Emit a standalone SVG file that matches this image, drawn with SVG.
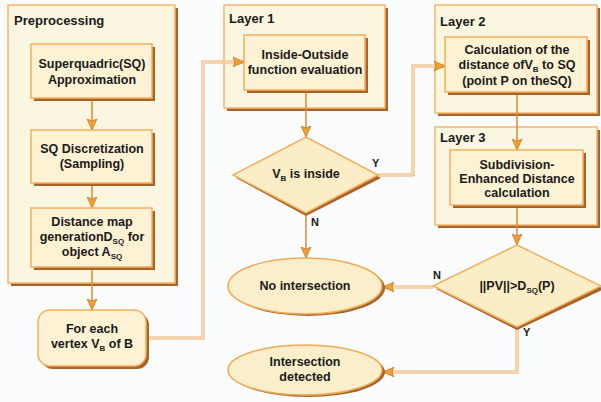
<svg xmlns="http://www.w3.org/2000/svg" width="601" height="402" viewBox="0 0 601 402">
<style>
.bg{fill:#fbfcfd}
.sh{fill:#a8632a}
.cont{fill:#fbf6df;stroke:#f6b56c;stroke-width:1.5}
.box{fill:#fdf2d3;stroke:#f5ae5e;stroke-width:1.5}
.dia{fill:#fbedc6;stroke:#f5ae5e;stroke-width:1.5}
.ell{fill:#fbefcb;stroke:#f2a957;stroke-width:1.5}
text{font-family:"Liberation Sans",Arial,sans-serif;font-weight:bold;fill:#1a1a1a}
.t{font-size:12.5px;text-anchor:middle}
.lab{font-size:13px}
.yn{font-size:11px}
.w{fill:none;stroke:#f0b06a;stroke-width:3}
.wc{fill:none;stroke:#fdf5e6;stroke-width:1}
.s{fill:none;stroke:#d98a36;stroke-width:1.5}
</style>
<defs>
<marker id="ah" markerUnits="userSpaceOnUse" markerWidth="12" markerHeight="12" viewBox="0 0 12 12" refX="11" refY="6" orient="auto">
<path d="M0,1 L11,6 L0,11 L2,6 Z" fill="#f0a030" stroke="#b86a20" stroke-width="0.6"/>
</marker>
</defs>
<rect class="bg" x="0" y="0" width="601" height="402"/>

<g id="preprocessing">
<rect class="sh" x="11" y="8" width="167" height="278"/>
<rect class="cont" x="8" y="5" width="167" height="278"/>
<text class="lab" x="14" y="25">Preprocessing</text>
</g>
<g id="layer1">
<rect class="sh" x="227" y="8" width="161" height="103"/>
<rect class="cont" x="224" y="5" width="161" height="103"/>
<text class="lab" x="229" y="23">Layer 1</text>
</g>
<g id="layer2">
<rect class="sh" x="438" y="8" width="162" height="108"/>
<rect class="cont" x="435" y="5" width="162" height="108"/>
<text class="lab" x="440" y="26">Layer 2</text>
</g>
<g id="layer3">
<rect class="sh" x="438" y="130" width="162" height="98"/>
<rect class="cont" x="435" y="127" width="162" height="98"/>
<text class="lab" x="440" y="142">Layer 3</text>
</g>

<g id="connectors">
<path class="s" d="M92,98 V130" marker-end="url(#ah)"/>
<path class="s" d="M92,183 V208" marker-end="url(#ah)"/>
<path class="s" d="M92,267 V310" marker-end="url(#ah)"/>
<path class="w" d="M146,338 H203 V62 H244" marker-end="url(#ah)"/>
<path class="wc" d="M146,338 H203 V62 H234"/>
<path class="s" d="M306,90 V137" marker-end="url(#ah)"/>
<path class="w" d="M378,175 H413 V66 H445" marker-end="url(#ah)"/>
<path class="wc" d="M378,175 H413 V66 H435"/>
<path class="s" d="M517,92 V150" marker-end="url(#ah)"/>
<path class="s" d="M517,205 V245" marker-end="url(#ah)"/>
<path class="s" d="M306,213 V258" marker-end="url(#ah)"/>
<path class="w" d="M433,287 H383" marker-end="url(#ah)"/>
<path class="wc" d="M433,287 H393"/>
<path class="w" d="M517,327 V372 H383" marker-end="url(#ah)"/>
<path class="wc" d="M517,327 V372 H393"/>
<text class="yn" x="372" y="167">Y</text>
<text class="yn" x="311" y="226">N</text>
<text class="yn" x="433" y="279">N</text>
<text class="yn" x="523" y="336">Y</text>
</g>

<g id="superquadric">
<rect class="sh" x="34" y="47" width="121" height="54"/>
<rect class="box" x="31" y="44" width="121" height="54"/>
<text class="t" x="92" y="68">Superquadric(SQ)</text>
<text class="t" x="92" y="84">Approximation</text>
</g>
<g id="discretization">
<rect class="sh" x="34" y="133" width="121" height="53"/>
<rect class="box" x="31" y="130" width="121" height="53"/>
<text class="t" x="92" y="153">SQ Discretization</text>
<text class="t" x="92" y="168">(Sampling)</text>
</g>
<g id="distancemap">
<rect class="sh" x="34" y="211" width="121" height="59"/>
<rect class="box" x="31" y="208" width="121" height="59"/>
<text class="t" x="92" y="226">Distance map</text>
<text class="t" x="92" y="241">generationD<tspan font-size="8" dy="3">SQ</tspan><tspan dy="-3"> for</tspan></text>
<text class="t" x="92" y="256">object A<tspan font-size="8" dy="3">SQ</tspan></text>
</g>
<g id="foreach">
<rect class="sh" x="41" y="313" width="108" height="56" rx="12"/>
<rect class="box" x="38" y="310" width="108" height="56" rx="12"/>
<text class="t" x="92" y="333">For each</text>
<text class="t" x="92" y="348">vertex V<tspan font-size="8" dy="3">B</tspan><tspan dy="-3"> of B</tspan></text>
</g>
<g id="insideoutside">
<rect class="sh" x="247" y="38" width="121" height="55"/>
<rect class="box" x="244" y="35" width="121" height="55"/>
<text class="t" x="305" y="59">Inside-Outside</text>
<text class="t" x="305" y="74">function evaluation</text>
</g>
<g id="vbinside">
<polygon class="sh" points="306,140 381,178 306,216 236,178"/>
<polygon class="dia" points="306,137 378,175 306,213 233,175"/>
<text class="t" x="306" y="178">V<tspan font-size="8" dy="3">B</tspan><tspan dy="-3"> is inside</tspan></text>
</g>
<g id="calculation">
<rect class="sh" x="448" y="40" width="142" height="55"/>
<rect class="box" x="445" y="37" width="142" height="55"/>
<text class="t" x="517" y="54">Calculation of the</text>
<text class="t" x="517" y="69">distance ofV<tspan font-size="8" dy="3">B</tspan><tspan dy="-3"> to SQ</tspan></text>
<text class="t" x="517" y="85">(point P on theSQ)</text>
</g>
<g id="subdivision">
<rect class="sh" x="453" y="153" width="133" height="55"/>
<rect class="box" x="450" y="150" width="133" height="55"/>
<text class="t" x="517" y="169">Subdivision-</text>
<text class="t" x="517" y="183">Enhanced Distance</text>
<text class="t" x="517" y="197">calculation</text>
</g>
<g id="pvtest">
<polygon class="sh" points="517,248 604,289 517,330 436,289"/>
<polygon class="dia" points="517,245 601,286 517,327 433,286"/>
<text class="t" x="517" y="290">||PV||&gt;D<tspan font-size="8" dy="3">SQ</tspan><tspan dy="-3">(P)</tspan></text>
</g>
<g id="nointersection">
<ellipse class="sh" cx="308" cy="288" rx="77" ry="28"/>
<ellipse class="ell" cx="305" cy="286" rx="77" ry="28"/>
<text class="t" x="305" y="290">No intersection</text>
</g>
<g id="intersection">
<ellipse class="sh" cx="308" cy="372" rx="77" ry="25"/>
<ellipse class="ell" cx="305" cy="370" rx="77" ry="25"/>
<text class="t" x="305" y="366">Intersection</text>
<text class="t" x="305" y="381">detected</text>
</g>
</svg>
